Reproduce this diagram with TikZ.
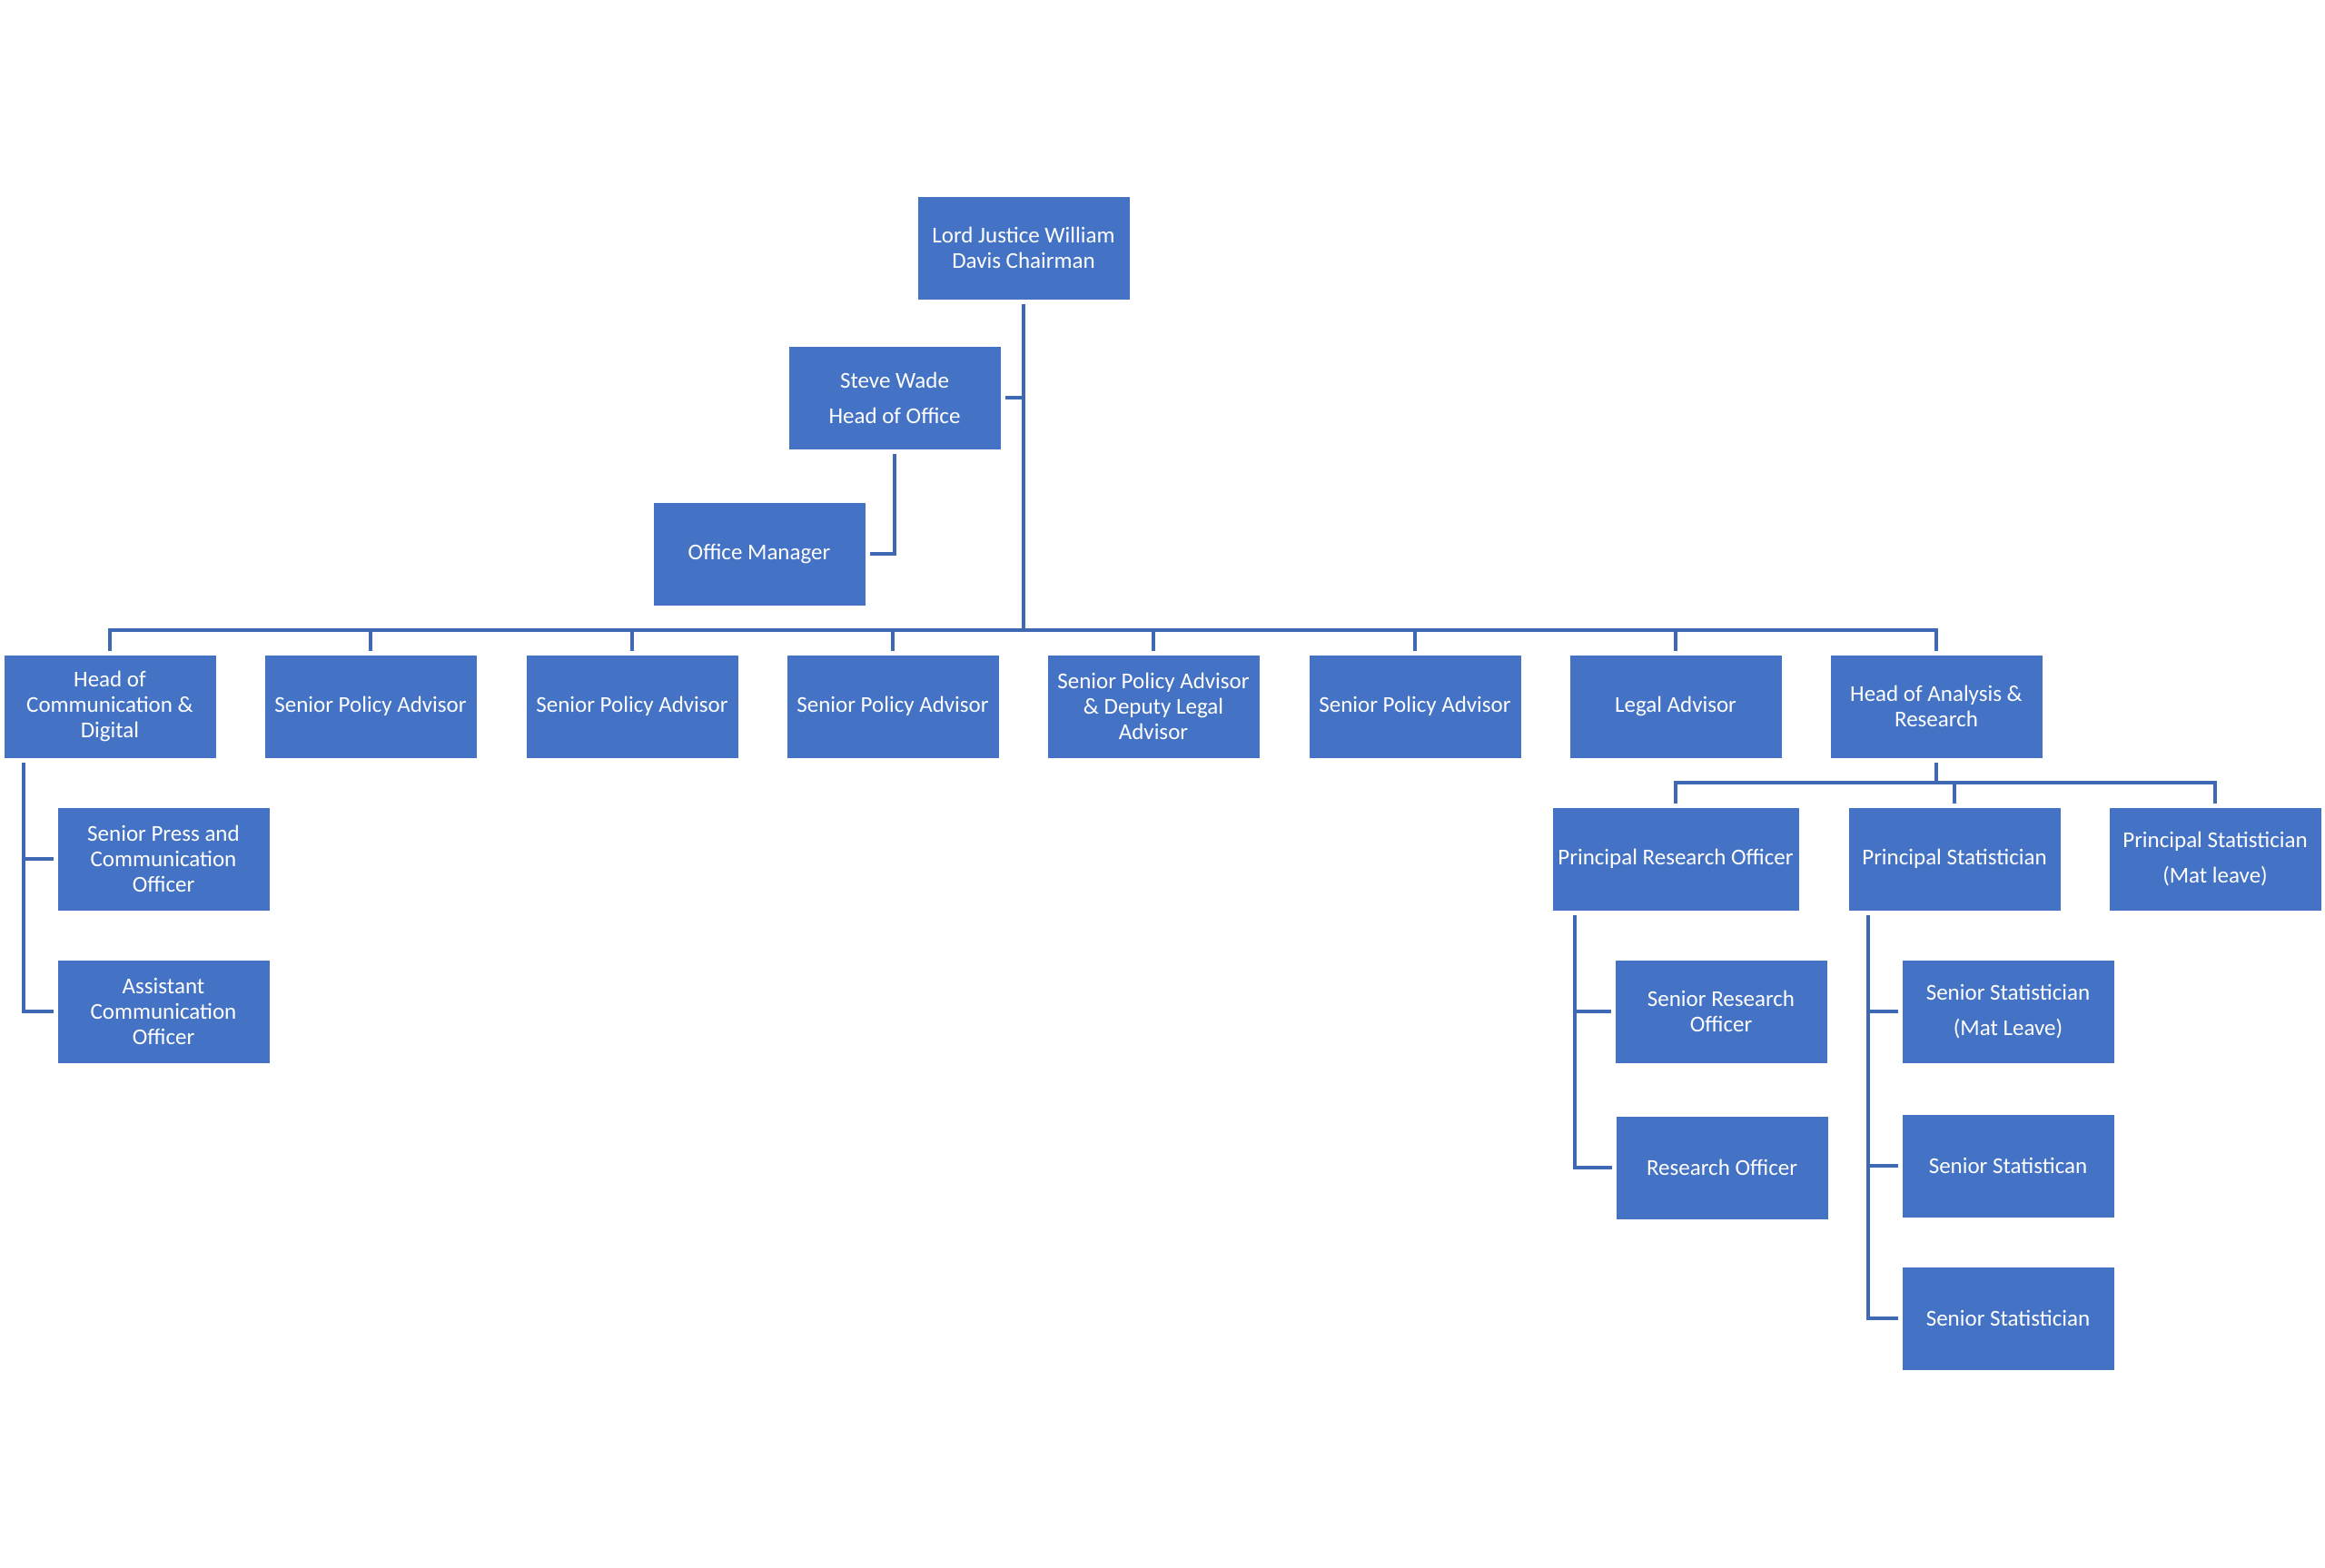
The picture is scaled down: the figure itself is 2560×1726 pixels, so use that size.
\documentclass[tikz,border=0pt]{standalone}
\usepackage{fontspec}
\setmainfont{Carlito}
\definecolor{boxblue}{HTML}{4472C4}
\definecolor{linkblue}{HTML}{3F68B5}

\begin{document}
\begin{tikzpicture}[x=0.5pt, y=-0.5pt,
  post/.style={rectangle, fill=boxblue, text=white, align=center,
    minimum width=116.5pt, minimum height=56.5pt, inner sep=2pt, outer sep=2.5pt,
    font=\fontsize{12.5}{14}\selectfont},
  link/.style={draw=linkblue, line width=2pt}]
  \useasboundingbox (0,0) rectangle (2560,1726);
  % top of the office
  \node[post] (chair) at (1127,273) {Lord Justice William\\Davis Chairman};
  \node[post] (steve) at (985,438) {Steve Wade\\[5.5pt]Head of Office};
  \node[post] (om) at (836,610) {Office Manager};

  % first row
  \node[post] (comm) at (121,778) {Head of\\Communication \&\\Digital};
  \node[post] (spa1) at (408,778) {Senior Policy Advisor};
  \node[post] (spa2) at (696,778) {Senior Policy Advisor};
  \node[post] (spa3) at (983,778) {Senior Policy Advisor};
  \node[post] (spdl) at (1270,778) {Senior Policy Advisor\\\& Deputy Legal\\Advisor};
  \node[post] (spa4) at (1558,778) {Senior Policy Advisor};
  \node[post] (legal) at (1845,778) {Legal Advisor};
  \node[post] (hoar) at (2132,778) {Head of Analysis \&\\Research};

  % communication team
  \node[post] (spcom) at (180,946) {Senior Press and\\Communication\\Officer};
  \node[post] (acom) at (180,1114) {Assistant\\Communication\\Officer};

  % analysis and research team
  \node[post, minimum width=135.5pt] (pro) at (1845,946) {Principal Research Officer};
  \node[post] (ps) at (2152,946) {Principal Statistician};
  \node[post] (psmat) at (2439,946) {Principal Statistician\\[5.5pt](Mat leave)};
  \node[post] (sro) at (1895,1114) {Senior Research\\Officer};
  \node[post] (ro) at (1896,1286) {Research Officer};
  \node[post] (ssmat) at (2211,1114) {Senior Statistician\\[5.5pt](Mat Leave)};
  \node[post] (ss2) at (2211,1284) {Senior Statistican};
  \node[post] (ss3) at (2211,1452) {Senior Statistician};

  % buses and rails
  \coordinate (bus) at (1127,694);
  \coordinate (bus2) at (2132,862);
  \coordinate (rail1) at (26,0);
  \coordinate (rail2) at (1734,0);
  \coordinate (rail3) at (2057,0);

  \draw[link] (chair.south) -- (bus);
  \draw[link] (steve.east) -- (steve.east -| chair.south);
  \draw[link] (steve.south) |- (om.east);
  \draw[link] (comm.north) |- (bus) -| (hoar.north);
  \foreach \n in {spa1,spa2,spa3,spdl,spa4,legal}
    \draw[link] (\n.north) -- (\n.north |- bus);

  \draw[link] (comm.south -| rail1) |- (acom.west);
  \draw[link] (spcom.west -| rail1) -- (spcom.west);

  \draw[link] (hoar.south) -- (bus2);
  \draw[link] (pro.north) |- (bus2) -| (psmat.north);
  \draw[link] (ps.north) -- (ps.north |- bus2);

  \draw[link] (pro.south -| rail2) |- (ro.west);
  \draw[link] (sro.west -| rail2) -- (sro.west);
  \draw[link] (ps.south -| rail3) |- (ss3.west);
  \foreach \n in {ssmat,ss2}
    \draw[link] (\n.west -| rail3) -- (\n.west);
\end{tikzpicture}
\end{document}
